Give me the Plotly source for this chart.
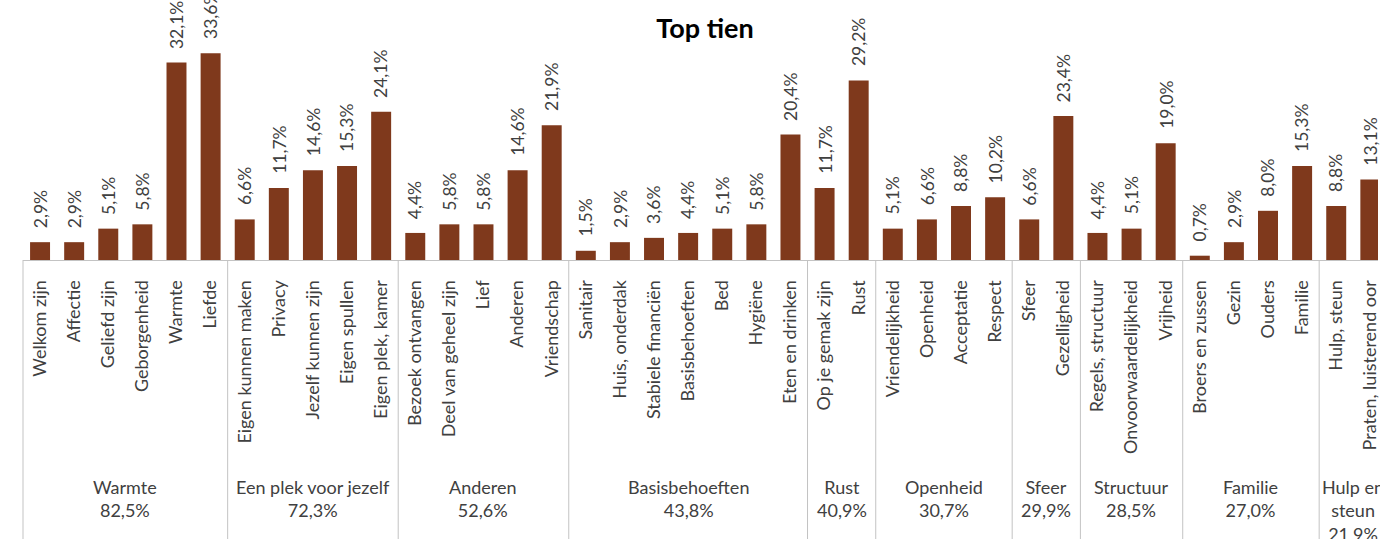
import textwrap
import plotly.graph_objects as go

# ---- data ----
groups = ["Warmte", "Een plek voor jezelf", "Anderen", "Basisbehoeften", "Rust",
          "Openheid", "Sfeer", "Structuur", "Familie", "Hulp en steun"]
group_totals = [82.5, 72.3, 52.6, 43.8, 40.9, 30.7, 29.9, 28.5, 27.0, 21.9]
group_items = [
    ["Welkom zijn", "Affectie", "Geliefd zijn", "Geborgenheid", "Warmte", "Liefde"],
    ["Eigen kunnen maken", "Privacy", "Jezelf kunnen zijn", "Eigen spullen", "Eigen plek, kamer"],
    ["Bezoek ontvangen", "Deel van geheel zijn", "Lief", "Anderen", "Vriendschap"],
    ["Sanitair", "Huis, onderdak", "Stabiele financiën", "Basisbehoeften", "Bed", "Hygiëne", "Eten en drinken"],
    ["Op je gemak zijn", "Rust"],
    ["Vriendelijkheid", "Openheid", "Acceptatie", "Respect"],
    ["Sfeer", "Gezelligheid"],
    ["Regels, structuur", "Onvoorwaardelijkheid", "Vrijheid"],
    ["Broers en zussen", "Gezin", "Ouders", "Familie"],
    ["Hulp, steun", "Praten, luisterend oor"],
]
group_values = [
    [2.9, 2.9, 5.1, 5.8, 32.1, 33.6],
    [6.6, 11.7, 14.6, 15.3, 24.1],
    [4.4, 5.8, 5.8, 14.6, 21.9],
    [1.5, 2.9, 3.6, 4.4, 5.1, 5.8, 20.4],
    [11.7, 29.2],
    [5.1, 6.6, 8.8, 10.2],
    [6.6, 23.4],
    [4.4, 5.1, 19.0],
    [0.7, 2.9, 8.0, 15.3],
    [8.8, 13.1],
]

def pct(v):
    return f"{v:.1f}".replace(".", ",") + "%"

items = [it for g in group_items for it in g]
values = [v for g in group_values for v in g]

# ---- layout constants ----
W, H = 1380, 539
ML, MT, MB = 23, 0, 279
plot_w = W - ML
plot_h = H - MT - MB
cat_px = 34.16
px_per_unit = 6.15
font = "Lato"
txt_col = "#404040"
bar_col = "#7f391c"
div_col = "#c3c3c3"

fig = go.Figure(go.Bar(
    x=items, y=values,
    marker=dict(color=bar_col, line=dict(width=0)),
    hoverinfo="x+y",
))

annotations = []
for it, v in zip(items, values):
    annotations.append(dict(
        x=it, y=v, xref="x", yref="y", text=pct(v), showarrow=False,
        textangle=-90, xanchor="center", yanchor="bottom", yshift=12,
        font=dict(family=font, size=17.5, color=txt_col),
    ))

shapes = []
start = 0
bottom_paper = -(MB) / plot_h
for g, tot, its in zip(groups, group_totals, group_items):
    n = len(its)
    center = start + (n - 1) / 2
    label = "<br>".join(textwrap.wrap(g, width=4 * n)) + "<br>" + pct(tot)
    annotations.append(dict(
        x=center, y=-(474 - plot_h) / plot_h, xref="x", yref="paper",
        text=label, showarrow=False, xanchor="center", yanchor="top",
        font=dict(family=font, size=18, color=txt_col),
    ))
    if start == 0:
        shapes.append(dict(type="line", xref="paper", yref="paper",
                           x0=0, x1=0, y0=0, y1=bottom_paper,
                           line=dict(color=div_col, width=1)))
    else:
        shapes.append(dict(type="line", xref="x", yref="paper",
                           x0=start - 0.5, x1=start - 0.5, y0=0, y1=bottom_paper,
                           line=dict(color=div_col, width=1)))
    start += n

fig.update_layout(
    width=W, height=H,
    margin=dict(l=ML, r=0, t=MT, b=MB, pad=0),
    paper_bgcolor="white", plot_bgcolor="white",
    showlegend=False,
    bargap=1 - 20 / cat_px,
    title=dict(text="<b>Top tien</b>", x=705 / W, xanchor="center",
               y=1 - 29 / H, yanchor="middle", yref="container",
               font=dict(family=font, size=27, color="#000000")),
    xaxis=dict(
        type="category", range=[-0.5, -0.5 + plot_w / cat_px],
        showline=True, linecolor=div_col, linewidth=1,
        showgrid=False, zeroline=False, ticks="",
        tickangle=-90, ticklabelstandoff=12,
        tickfont=dict(family=font, size=18, color=txt_col),
        fixedrange=True,
    ),
    yaxis=dict(range=[0, plot_h / px_per_unit], visible=False, fixedrange=True),
    annotations=annotations,
    shapes=shapes,
)

fig.write_html(
    "out.html",
    config={"displayModeBar": False},
    post_script="document.body.style.margin='0';document.body.style.overflow='hidden';",
)
